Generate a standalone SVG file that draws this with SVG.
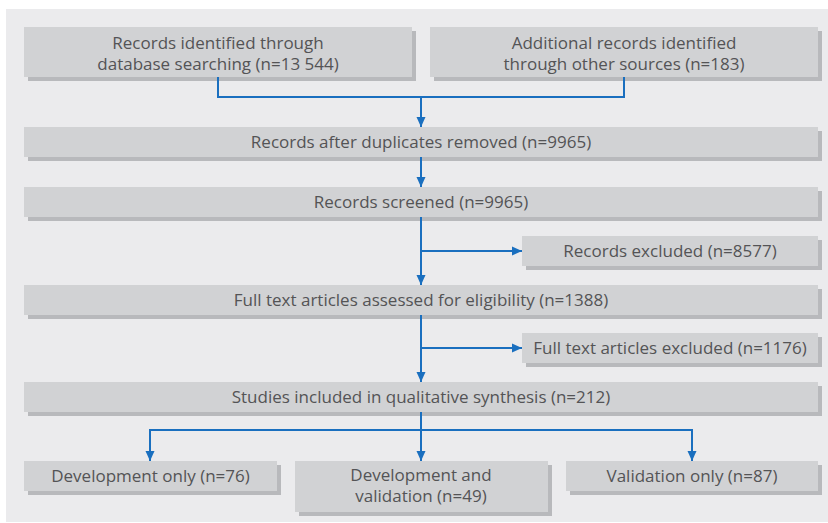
<svg xmlns="http://www.w3.org/2000/svg" width="828" height="523" viewBox="0 0 828 523">
<defs>
<marker id="ah" viewBox="0 0 10 10" refX="10" refY="5" markerWidth="10" markerHeight="10" markerUnits="userSpaceOnUse" orient="auto">
<path d="M0,0.5 L10,5 L0,9.5 z" fill="#1a6fbf"/>
</marker>
</defs>
<style>
.bg{fill:#ebebed}
.sh{fill:#b8b9bc}
.bx{fill:#d1d2d4}
.t{font-family:"Open Sans","Noto Sans",sans-serif;font-size:17px;fill:#545456;text-anchor:middle}
.c{fill:none;stroke:#1a6fbf;stroke-width:2}
</style>
<rect class="bg" x="6" y="9" width="822" height="513"/>
<g id="n1"><rect class="sh" x="28" y="31" width="388" height="50"/><rect class="bx" x="24" y="27" width="388" height="50"/><text class="t" x="218" y="49">Records identified through</text><text class="t" x="218" y="70">database searching (n=13 544)</text></g>
<g id="n2"><rect class="sh" x="434" y="31" width="388" height="50"/><rect class="bx" x="430" y="27" width="388" height="50"/><text class="t" x="624" y="49">Additional records identified</text><text class="t" x="624" y="70">through other sources (n=183)</text></g>
<g id="n3"><rect class="sh" x="28" y="131" width="794" height="30"/><rect class="bx" x="24" y="127" width="794" height="30"/><text class="t" x="421" y="148">Records after duplicates removed (n=9965)</text></g>
<g id="n4"><rect class="sh" x="28" y="191" width="794" height="30"/><rect class="bx" x="24" y="187" width="794" height="30"/><text class="t" x="421" y="208">Records screened (n=9965)</text></g>
<g id="n5"><rect class="sh" x="526" y="240" width="296" height="30"/><rect class="bx" x="522" y="236" width="296" height="30"/><text class="t" x="670" y="257">Records excluded (n=8577)</text></g>
<g id="n6"><rect class="sh" x="28" y="289" width="794" height="30"/><rect class="bx" x="24" y="285" width="794" height="30"/><text class="t" x="421" y="306">Full text articles assessed for eligibility (n=1388)</text></g>
<g id="n7"><rect class="sh" x="526" y="337" width="296" height="30"/><rect class="bx" x="522" y="333" width="296" height="30"/><text class="t" x="670" y="354">Full text articles excluded (n=1176)</text></g>
<g id="n8"><rect class="sh" x="28" y="386" width="794" height="30"/><rect class="bx" x="24" y="382" width="794" height="30"/><text class="t" x="421" y="403">Studies included in qualitative synthesis (n=212)</text></g>
<g id="n9"><rect class="sh" x="28" y="465" width="253" height="30"/><rect class="bx" x="24" y="461" width="253" height="30"/><text class="t" x="150.5" y="482">Development only (n=76)</text></g>
<g id="n10"><rect class="sh" x="299" y="465" width="253" height="51"/><rect class="bx" x="295" y="461" width="253" height="51"/><text class="t" x="421" y="481">Development and</text><text class="t" x="421" y="502">validation (n=49)</text></g>
<g id="n11"><rect class="sh" x="570" y="465" width="252" height="30"/><rect class="bx" x="566" y="461" width="252" height="30"/><text class="t" x="692" y="482">Validation only (n=87)</text></g>
<g id="connectors">
<path class="c" d="M218,77 V97 H624 V77"/>
<path class="c" d="M421,97 V127" marker-end="url(#ah)"/>
<path class="c" d="M421,157 V187" marker-end="url(#ah)"/>
<path class="c" d="M421,217 V285" marker-end="url(#ah)"/>
<path class="c" d="M421,251 H522" marker-end="url(#ah)"/>
<path class="c" d="M421,315 V382" marker-end="url(#ah)"/>
<path class="c" d="M421,348 H522" marker-end="url(#ah)"/>
<path class="c" d="M421,412 V461" marker-end="url(#ah)"/>
<path class="c" d="M421,430 H150 V461" marker-end="url(#ah)"/>
<path class="c" d="M421,430 H692 V461" marker-end="url(#ah)"/>
</g>
</svg>
